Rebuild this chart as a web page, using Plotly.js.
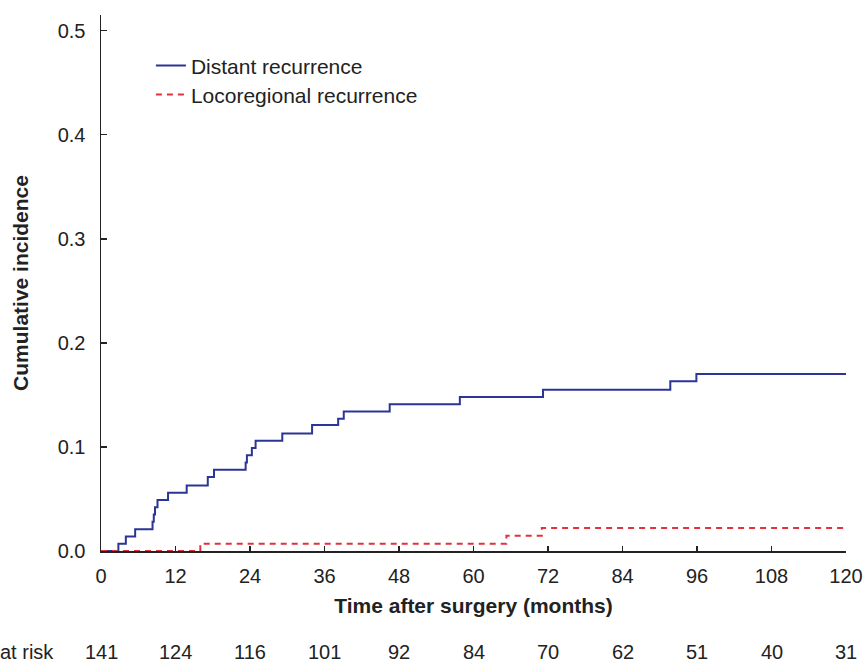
<!DOCTYPE html>
<html><head><meta charset="utf-8">
<script src="https://cdn.plot.ly/plotly-3.0.1.min.js"></script>
<style>body{margin:0;padding:0;background:#fff}#chart{width:864px;height:664px}</style>
</head><body><div id="chart"></div>
<script>
var distantTime = [0, 2.8, 4.0, 5.5, 8.3, 8.5, 8.7, 9.1, 10.8, 13.8, 17.2, 18.2, 23.3, 23.5, 24.3, 24.9, 29.2, 34.0, 38.2, 39.1, 46.5, 57.8, 71.2, 91.7, 95.9, 120];
var distantInc = [0, 0.007, 0.014, 0.021, 0.028, 0.035, 0.042, 0.049, 0.056, 0.063, 0.071, 0.078, 0.085, 0.092, 0.099, 0.106, 0.113, 0.121, 0.127, 0.134, 0.141, 0.148, 0.155, 0.163, 0.170, 0.170];
var locoTime = [0, 16.0, 65.3, 71.0, 120];
var locoInc = [0, 0.007, 0.0147, 0.022, 0.022];
var riskTimes = [0, 12, 24, 36, 48, 60, 72, 84, 96, 108, 120];
var atRisk = [141, 124, 116, 101, 92, 84, 70, 62, 51, 40, 31];

var FONT = 'Liberation Sans, Arial, sans-serif';
var TXT = '#222';
var traces = [
  {x: distantTime, y: distantInc, mode: 'lines', line: {shape: 'hv', color: '#2b3595', width: 2}, name: 'Distant recurrence', legend: 'legend'},
  {x: locoTime, y: locoInc, mode: 'lines', line: {shape: 'hv', color: '#e0323c', width: 2, dash: '6px,5px'}, name: 'Locoregional recurrence', legend: 'legend2'}
];
var ann = riskTimes.map(function(t, i) {
  return {x: t, xref: 'x', y: 0, yref: 'paper', yshift: -101, yanchor: 'middle', xanchor: 'center',
    text: String(atRisk[i]), showarrow: false, font: {family: FONT, size: 20, color: TXT}};
});
ann.push({x: 0, xref: 'paper', xshift: -103, y: 0, yref: 'paper', yshift: -101, yanchor: 'middle', xanchor: 'left',
  text: 'at risk', showarrow: false, font: {family: FONT, size: 20, color: TXT}});

var layout = {
  width: 864, height: 664,
  margin: {l: 101, r: 18, t: 15, b: 113},
  paper_bgcolor: '#fff', plot_bgcolor: '#fff',
  font: {family: FONT, size: 20, color: TXT},
  showlegend: true,
  legend: {x: 0.067, y: 0.905, xanchor: 'left', yanchor: 'middle', bgcolor: 'rgba(0,0,0,0)', font: {family: FONT, size: 21, color: TXT}},
  legend2: {x: 0.067, y: 0.851, xanchor: 'left', yanchor: 'middle', bgcolor: 'rgba(0,0,0,0)', font: {family: FONT, size: 21, color: TXT}},
  xaxis: {
    range: [0, 120], tickvals: riskTimes, ticks: 'inside', ticklen: 5, tickcolor: '#222', tickwidth: 1.5,
    showline: true, linecolor: '#222', linewidth: 1.5, showgrid: false, zeroline: false,
    ticklabelstandoff: 6, tickfont: {family: FONT, size: 20, color: TXT},
    title: {text: '<b>Time after surgery (months)</b>', font: {family: FONT, size: 21, color: TXT}, standoff: 13}
  },
  yaxis: {
    range: [0, 0.515], tickvals: [0, 0.1, 0.2, 0.3, 0.4, 0.5], ticktext: ['0.0', '0.1', '0.2', '0.3', '0.4', '0.5'],
    ticks: 'inside', ticklen: 6, tickcolor: '#222', tickwidth: 1.5,
    showline: true, linecolor: '#222', linewidth: 1.5, showgrid: false, zeroline: false,
    ticklabelstandoff: 10, tickfont: {family: FONT, size: 20, color: TXT},
    title: {text: '<b>Cumulative incidence</b>', font: {family: FONT, size: 21, color: TXT}, standoff: 23}
  },
  annotations: ann
};
Plotly.newPlot('chart', traces, layout, {displayModeBar: false, staticPlot: true});
</script></body></html>
